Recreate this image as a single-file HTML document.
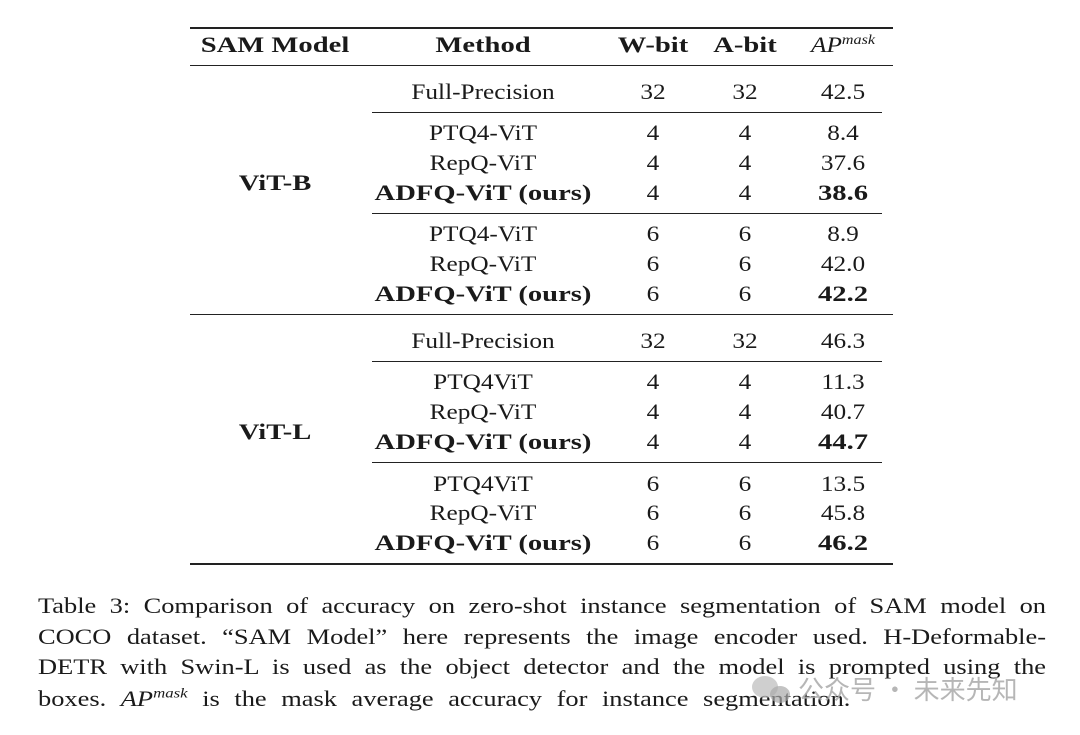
<!DOCTYPE html>
<html><head><meta charset="utf-8"><style>
body{margin:0;width:1080px;height:735px;background:#fff;position:relative;overflow:hidden;font-family:"Liberation Serif",serif;color:#1a1a1a}
.t{position:absolute;font-size:22px;line-height:22px;transform:translate(-50%,-50%) scaleX(1.15);white-space:nowrap}
.b{font-weight:bold;transform:translate(-50%,-50%) scaleX(1.3)}
.l{position:absolute;background:#222}
.c{position:absolute;left:38px;width:840px;font-size:22px;line-height:22px;text-align:justify;text-align-last:justify;white-space:nowrap;transform-origin:left center;transform:translateY(-50%) scaleX(1.2)}
</style></head><body>
<div class="l" style="left:190px;top:27px;width:703px;height:2px"></div>
<div class="l" style="left:190px;top:65px;width:703px;height:1px"></div>
<div class="l" style="left:372px;top:112px;width:510px;height:1px"></div>
<div class="l" style="left:372px;top:213px;width:510px;height:1px"></div>
<div class="l" style="left:190px;top:314px;width:703px;height:1px"></div>
<div class="l" style="left:372px;top:361px;width:510px;height:1px"></div>
<div class="l" style="left:372px;top:462px;width:510px;height:1px"></div>
<div class="l" style="left:190px;top:563px;width:703px;height:2px"></div>

<div class="t b" style="left:275px;top:45px">SAM Model</div>
<div class="t b" style="left:483px;top:45px">Method</div>
<div class="t b" style="left:653px;top:45px">W-bit</div>
<div class="t b" style="left:745px;top:45px">A-bit</div>
<div class="t" style="left:843px;top:43px;font-style:italic">AP<sup style="font-size:14px">mask</sup></div>

<div class="t b" style="left:275px;top:183px">ViT-B</div>
<div class="t b" style="left:275px;top:432px">ViT-L</div>

<div class="t" style="left:483px;top:92px">Full-Precision</div><div class="t" style="left:653px;top:92px">32</div><div class="t" style="left:745px;top:92px">32</div><div class="t" style="left:843px;top:92px">42.5</div>
<div class="t" style="left:483px;top:133px">PTQ4-ViT</div><div class="t" style="left:653px;top:133px">4</div><div class="t" style="left:745px;top:133px">4</div><div class="t" style="left:843px;top:133px">8.4</div>
<div class="t" style="left:483px;top:163px">RepQ-ViT</div><div class="t" style="left:653px;top:163px">4</div><div class="t" style="left:745px;top:163px">4</div><div class="t" style="left:843px;top:163px">37.6</div>
<div class="t b" style="left:483px;top:193px">ADFQ-ViT (ours)</div><div class="t" style="left:653px;top:193px">4</div><div class="t" style="left:745px;top:193px">4</div><div class="t b" style="left:843px;top:193px">38.6</div>
<div class="t" style="left:483px;top:234px">PTQ4-ViT</div><div class="t" style="left:653px;top:234px">6</div><div class="t" style="left:745px;top:234px">6</div><div class="t" style="left:843px;top:234px">8.9</div>
<div class="t" style="left:483px;top:264px">RepQ-ViT</div><div class="t" style="left:653px;top:264px">6</div><div class="t" style="left:745px;top:264px">6</div><div class="t" style="left:843px;top:264px">42.0</div>
<div class="t b" style="left:483px;top:294px">ADFQ-ViT (ours)</div><div class="t" style="left:653px;top:294px">6</div><div class="t" style="left:745px;top:294px">6</div><div class="t b" style="left:843px;top:294px">42.2</div>

<div class="t" style="left:483px;top:341px">Full-Precision</div><div class="t" style="left:653px;top:341px">32</div><div class="t" style="left:745px;top:341px">32</div><div class="t" style="left:843px;top:341px">46.3</div>
<div class="t" style="left:483px;top:382px">PTQ4ViT</div><div class="t" style="left:653px;top:382px">4</div><div class="t" style="left:745px;top:382px">4</div><div class="t" style="left:843px;top:382px">11.3</div>
<div class="t" style="left:483px;top:412px">RepQ-ViT</div><div class="t" style="left:653px;top:412px">4</div><div class="t" style="left:745px;top:412px">4</div><div class="t" style="left:843px;top:412px">40.7</div>
<div class="t b" style="left:483px;top:442px">ADFQ-ViT (ours)</div><div class="t" style="left:653px;top:442px">4</div><div class="t" style="left:745px;top:442px">4</div><div class="t b" style="left:843px;top:442px">44.7</div>
<div class="t" style="left:483px;top:484px">PTQ4ViT</div><div class="t" style="left:653px;top:484px">6</div><div class="t" style="left:745px;top:484px">6</div><div class="t" style="left:843px;top:484px">13.5</div>
<div class="t" style="left:483px;top:513px">RepQ-ViT</div><div class="t" style="left:653px;top:513px">6</div><div class="t" style="left:745px;top:513px">6</div><div class="t" style="left:843px;top:513px">45.8</div>
<div class="t b" style="left:483px;top:543px">ADFQ-ViT (ours)</div><div class="t" style="left:653px;top:543px">6</div><div class="t" style="left:745px;top:543px">6</div><div class="t b" style="left:843px;top:543px">46.2</div>

<div class="c" style="top:606px">Table 3: Comparison of accuracy on zero-shot instance segmentation of SAM model on</div>
<div class="c" style="top:637px">COCO dataset. “SAM Model” here represents the image encoder used. H-Deformable-</div>
<div class="c" style="top:667px">DETR with Swin-L is used as the object detector and the model is prompted using the</div>
<div class="c" style="top:697px;width:677px">boxes. <i>AP<sup style="font-size:14px">mask</sup></i> is the mask average accuracy for instance segmentation.</div>

<div style="position:absolute;left:752px;top:676px;width:26px;height:22px;border-radius:50%;background:#bbb;opacity:.7"></div>
<div style="position:absolute;left:770px;top:686px;width:20px;height:17px;border-radius:50%;background:#aaa;opacity:.7"></div>
<div style="position:absolute;left:798px;top:674px;font-family:'Noto Sans CJK SC',sans-serif;font-size:26px;line-height:30px;color:#aaa;opacity:.85;white-space:nowrap">公众号 · 未来先知</div>
</body></html>
